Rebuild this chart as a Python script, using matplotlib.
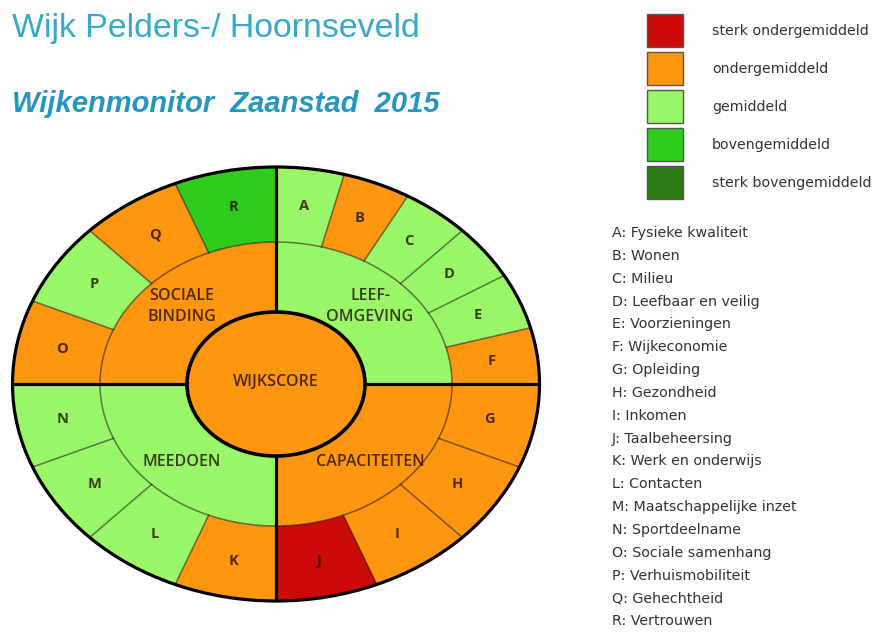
import numpy as np
import matplotlib
matplotlib.use("Agg")
import matplotlib.pyplot as plt
from matplotlib.patches import Polygon, Ellipse, Rectangle

# ---------------- data ----------------
level_names = ["sterk ondergemiddeld", "ondergemiddeld", "gemiddeld",
               "bovengemiddeld", "sterk bovengemiddeld"]
level_colors = ["#CC0A0A", "#FF9610", "#9BF76A", "#30CC1C", "#2C7A12"]

quadrant_names = ["LEEF-\nOMGEVING", "CAPACITEITEN", "MEEDOEN", "SOCIALE\nBINDING"]
quadrant_levels = [2, 1, 2, 1]
quadrant_letters = [["A", "B", "C", "D", "E", "F"],
                    ["G", "H", "I", "J"],
                    ["K", "L", "M", "N"],
                    ["O", "P", "Q", "R"]]
cell_levels = {"A": 2, "B": 1, "C": 2, "D": 2, "E": 2, "F": 1,
               "G": 1, "H": 1, "I": 1, "J": 0,
               "K": 1, "L": 2, "M": 2, "N": 2,
               "O": 1, "P": 2, "Q": 1, "R": 3}
descriptions = ["A: Fysieke kwaliteit", "B: Wonen", "C: Milieu",
                "D: Leefbaar en veilig", "E: Voorzieningen", "F: Wijkeconomie",
                "G: Opleiding", "H: Gezondheid", "I: Inkomen",
                "J: Taalbeheersing", "K: Werk en onderwijs", "L: Contacten",
                "M: Maatschappelijke inzet", "N: Sportdeelname",
                "O: Sociale samenhang", "P: Verhuismobiliteit",
                "Q: Gehechtheid", "R: Vertrouwen"]
center_label = "WIJKSCORE"
center_level = 1
title = "Wijk Pelders-/ Hoornseveld"
subtitle = "Wijkenmonitor  Zaanstad  2015"

# ---------------- layout (pixels) ----------------
W, H = 875, 632
cx, cy = 276, 384
R_out = (263.5, 217)
R_mid = (176, 142)
R_in = (89, 72)
R_lab = (218, 180)
R_qlab = (133, 110)
teal1 = "#38A9C9"
teal2 = "#2597BF"

fig = plt.figure(figsize=(W / 100, H / 100), dpi=100)
ax = fig.add_axes([0, 0, 1, 1])
ax.set_xlim(0, W)
ax.set_ylim(H, 0)
ax.axis("off")


def ept(r, t):
    return cx + r[0] * np.cos(t), cy - r[1] * np.sin(t)


def sector(r1, r2, t1, t2, n=80):
    ts = np.linspace(t1, t2, n)
    xo, yo = ept(r2, ts)
    xi, yi = ept(r1, ts[::-1])
    return np.column_stack([np.concatenate([xo, xi]), np.concatenate([yo, yi])])


sep_col = (0, 0, 0, 0.5)
txt_col = (0.12, 0.06, 0.0, 0.8)
quad_start = [np.pi / 2, 0, -np.pi / 2, -np.pi]  # clockwise quadrants

for q, letters in enumerate(quadrant_letters):
    t0 = quad_start[q]
    n = len(letters)
    step = (np.pi / 2) / n
    ax.add_patch(Polygon(sector(R_in, R_mid, t0, t0 - np.pi / 2),
                         closed=True, facecolor=level_colors[quadrant_levels[q]],
                         edgecolor="none", zorder=1))
    tq = t0 - np.pi / 4
    qx, qy = ept(R_qlab, tq)
    ax.text(qx, qy, quadrant_names[q], ha="center", va="center",
            fontsize=11.5, family="Open Sans", weight="semibold",
            color=txt_col, linespacing=1.45, zorder=6)
    for i, L in enumerate(letters):
        ta = t0 - i * step
        tb = ta - step
        ax.add_patch(Polygon(sector(R_mid, R_out, ta, tb), closed=True,
                             facecolor=level_colors[cell_levels[L]],
                             edgecolor="none", zorder=1))
        if i > 0:
            x1, y1 = ept(R_mid, ta)
            x2, y2 = ept(R_out, ta)
            ax.plot([x1, x2], [y1, y2], color=sep_col, lw=1.1, zorder=2)
        lx, ly = ept(R_lab, (ta + tb) / 2)
        ax.text(lx, ly, L, ha="center", va="center", fontsize=10.5,
                family="Open Sans", weight="bold", color=txt_col, zorder=6)

# middle ring boundary
ts = np.linspace(0, 2 * np.pi, 400)
xm, ym = ept(R_mid, ts)
ax.plot(xm, ym, color=sep_col, lw=1.1, zorder=2)

# thick cross lines
ax.plot([cx, cx], [cy - R_out[1], cy + R_out[1]], color="black", lw=2.3, zorder=3,
        solid_capstyle="butt")
ax.plot([cx - R_out[0], cx + R_out[0]], [cy, cy], color="black", lw=2.3, zorder=3,
        solid_capstyle="butt")

# outer border
ax.add_patch(Ellipse((cx, cy), 2 * R_out[0], 2 * R_out[1], facecolor="none",
                     edgecolor="black", lw=2.3, zorder=4))
# center
ax.add_patch(Ellipse((cx, cy), 2 * R_in[0], 2 * R_in[1],
                     facecolor=level_colors[center_level],
                     edgecolor="black", lw=2.6, zorder=5))
ax.text(cx, cy - 2, center_label, ha="center", va="center", fontsize=11.5,
        family="Open Sans", weight="semibold", color=txt_col, zorder=6)

# titles
ax.text(12, 28, title, ha="left", va="center", fontsize=24.4,
        family="Liberation Sans", color=teal1)
ax.text(12, 104, subtitle, ha="left", va="center", fontsize=21,
        family="Liberation Sans", weight="bold", style="italic", color=teal2)

# legend
for k, (nm, col) in enumerate(zip(level_names, level_colors)):
    y0 = 14 + k * 38
    ax.add_patch(Rectangle((647, y0), 36, 33, facecolor=col,
                           edgecolor="#555555", lw=1.0, zorder=3))
    ax.text(712, y0 + 17, nm, ha="left", va="center", fontsize=10.2,
            family="DejaVu Sans", color="#333333")

# descriptions
for k, d in enumerate(descriptions):
    ax.text(612, 233 + k * 22.85, d, ha="left", va="center", fontsize=10.3,
            family="DejaVu Sans", color="#333333")

fig.savefig("out.png", dpi=100, facecolor="white")
